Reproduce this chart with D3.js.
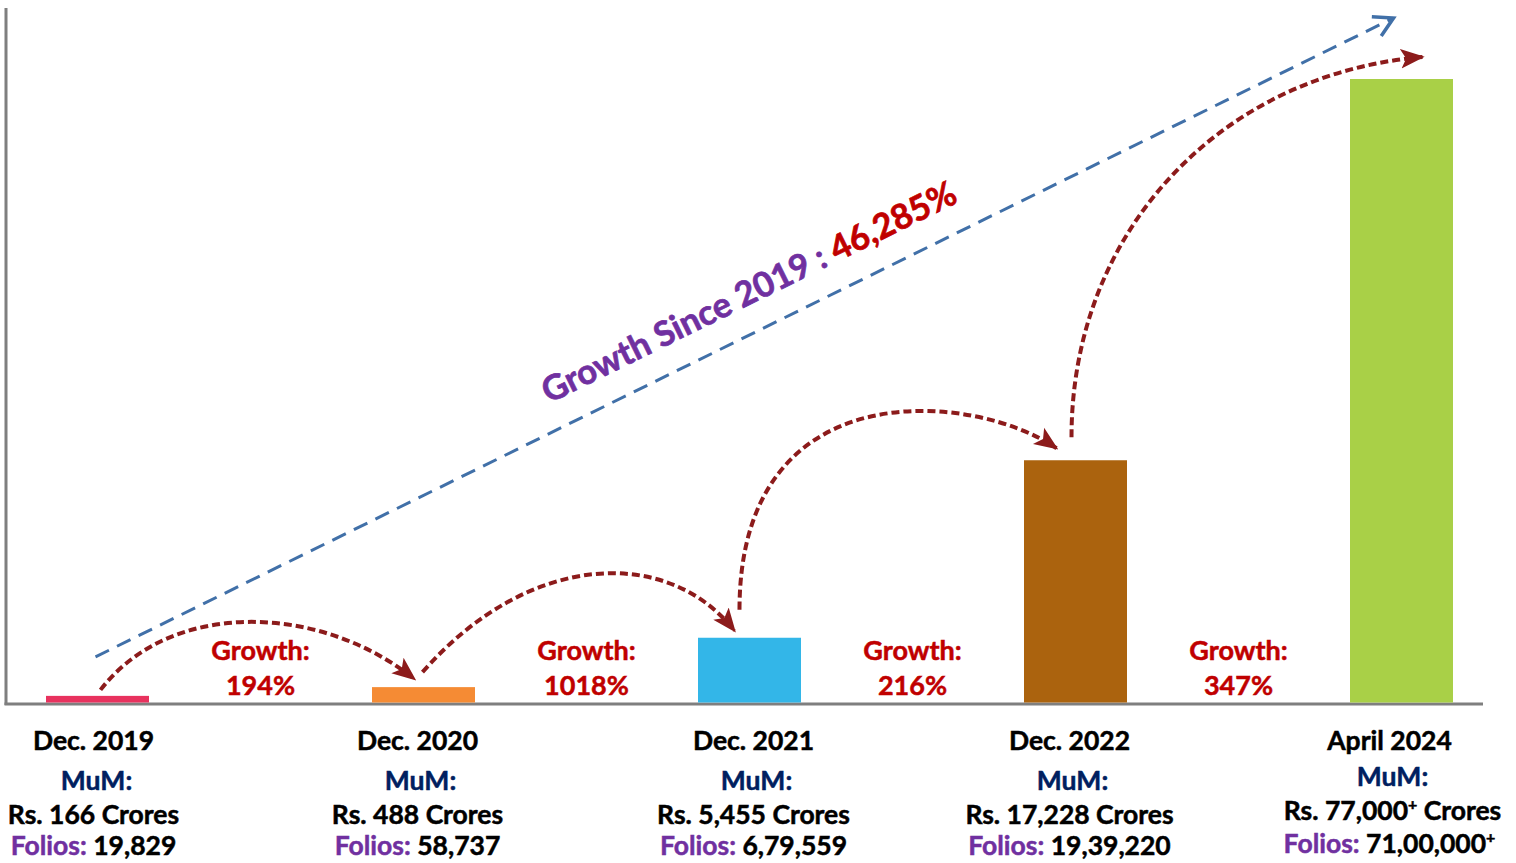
<!DOCTYPE html>
<html>
<head>
<meta charset="utf-8">
<script src="https://cdn.jsdelivr.net/npm/d3@7"></script>
<style>
  html, body { margin: 0; padding: 0; background: #ffffff; }
  svg { display: block; }
  text { font-family: "Lato", "Open Sans", sans-serif; font-weight: 700; }
</style>
</head>
<body>
<svg id="chart" width="1516" height="863"></svg>
<script>
// ---- data ----
const categories = ["Dec. 2019", "Dec. 2020", "Dec. 2021", "Dec. 2022", "April 2024"];
const mumCrores  = ["166", "488", "5,455", "17,228", "77,000"];
const mumPlus    = [false, false, false, false, true];
const folios     = ["19,829", "58,737", "6,79,559", "19,39,220", "71,00,000"];
const foliosPlus = [false, false, false, false, true];
const barLevel   = [1.3, 2.7, 10.6, 39, 100];   // relative bar height as drawn (tallest = 100)
const growth     = ["194%", "1018%", "216%", "347%"];
const totalGrowth = "46,285%";
const barColors  = ["#e8325e", "#f58b34", "#33b6e8", "#ab630e", "#a9d047"];

// ---- layout ----
const frame = { left: 6, right: 1483, top: 8, bottom: 704 };
const barW = 103;
const labelShift = [-4, -6, 4, -6, -12];
const svg = d3.select("#chart");

const x = d3.scalePoint().domain(categories).range([97.5, 1401.5]);
const y = d3.scaleLinear().domain([0, 100]).range([frame.bottom, 79]);

const RED = "#c00000", PURPLE = "#7030a0", NAVY = "#002060", DARKRED = "#8c1b1b", BLUE = "#4170a8";

// markers
const defs = svg.append("defs");
defs.append("marker").attr("id", "redHead")
  .attr("markerUnits", "userSpaceOnUse").attr("markerWidth", 24).attr("markerHeight", 24)
  .attr("viewBox", "0 0 22 20").attr("refX", 20).attr("refY", 10).attr("orient", "auto")
  .append("path").attr("d", "M0,1 L22,10 L0,19 L5,10 Z").attr("fill", DARKRED);
defs.append("marker").attr("id", "blueHead")
  .attr("markerUnits", "userSpaceOnUse").attr("markerWidth", 26).attr("markerHeight", 26)
  .attr("viewBox", "0 0 22 22").attr("refX", 19).attr("refY", 11).attr("orient", "auto")
  .append("path").attr("d", "M3,2 L19,11 L3,20").attr("fill", "none")
  .attr("stroke", BLUE).attr("stroke-width", 3).attr("stroke-linejoin", "miter");

// axes frame
svg.append("line").attr("x1", frame.left).attr("x2", frame.left)
  .attr("y1", frame.top).attr("y2", frame.bottom + 1)
  .attr("stroke", "#7f7f7f").attr("stroke-width", 3);
svg.append("line").attr("x1", frame.left - 1.5).attr("x2", frame.right)
  .attr("y1", frame.bottom).attr("y2", frame.bottom)
  .attr("stroke", "#7f7f7f").attr("stroke-width", 3);

// bars
svg.append("g").selectAll("rect").data(categories).join("rect")
  .attr("x", d => x(d) - barW / 2)
  .attr("width", barW)
  .attr("y", (d, i) => y(barLevel[i]))
  .attr("height", (d, i) => y(0) - y(barLevel[i]) - 1.5)
  .attr("fill", (d, i) => barColors[i]);

// blue dashed total-growth line
const c0 = x(categories[0]), cN = x(categories[categories.length - 1]);
const blueStart = [c0 - 2, y(barLevel[0]) - 39];
const blueEnd = [cN - 8, frame.top + 10];
svg.append("line")
  .attr("x1", blueStart[0]).attr("y1", blueStart[1])
  .attr("x2", blueEnd[0]).attr("y2", blueEnd[1])
  .attr("stroke", BLUE).attr("stroke-width", 3)
  .attr("stroke-dasharray", "15 9")
  .attr("marker-end", "url(#blueHead)");

// helper: coloured text with a hairline stroke for a heavier look
function paint(sel, col, w) {
  return sel.attr("fill", col).attr("stroke", col).attr("stroke-width", w || 0.5);
}

// rotated total-growth label
const ang = Math.atan2(blueEnd[1] - blueStart[1], blueEnd[0] - blueStart[0]) * 180 / Math.PI;
const tx = 549, tyOnLine = blueStart[1] + (tx - blueStart[0]) * (blueEnd[1] - blueStart[1]) / (blueEnd[0] - blueStart[0]);
const tl = svg.append("text")
  .attr("transform", `translate(${tx},${tyOnLine - 30}) rotate(${ang})`)
  .attr("font-size", 34.5);
paint(tl.append("tspan"), PURPLE, 0.7).text("Growth Since 2019 : ");
paint(tl.append("tspan"), RED, 0.7).text(totalGrowth);

// curved dotted arrows between bars
function bez(p0, p1, p2, p3) {
  const p = d3.path();
  p.moveTo(p0[0], p0[1]);
  p.bezierCurveTo(p1[0], p1[1], p2[0], p2[1], p3[0], p3[1]);
  return p.toString();
}
const barTop = i => y(barLevel[i]);
const xc = i => x(categories[i]);
const arrows = [
  bez([xc(0) + 3, barTop(0) - 6], [xc(0) + 73, barTop(0) - 97], [xc(1) - 104, barTop(1) - 84], [xc(1) - 9, barTop(1) - 8]),
  bez([xc(1) - 1, barTop(1) - 15], [xc(1) + 105, barTop(1) - 136], [xc(2) - 82, barTop(2) - 92], [xc(2) - 15, barTop(2) - 7]),
  bez([xc(2) - 10, barTop(2) - 28], [xc(2) - 10, barTop(2) - 270], [xc(3) - 100, barTop(3) - 68], [xc(3) - 19, barTop(3) - 12]),
  bez([xc(3) - 4, barTop(3) - 23], [xc(3) - 4, barTop(3) - 230], [xc(4) - 180, barTop(4) - 5], [xc(4) + 21, barTop(4) - 22])
];
svg.append("g").selectAll("path").data(arrows).join("path")
  .attr("d", d => d)
  .attr("fill", "none")
  .attr("stroke", DARKRED).attr("stroke-width", 4)
  .attr("stroke-dasharray", "8 4")
  .attr("marker-end", "url(#redHead)");

// growth labels between bars
const gG = svg.append("g").attr("text-anchor", "middle").attr("font-size", 27);
growth.forEach((g, i) => {
  const mx = (xc(i) + xc(i + 1)) / 2;
  paint(gG.append("text"), RED).attr("x", mx).attr("y", 660).text("Growth:");
  paint(gG.append("text"), RED).attr("x", mx).attr("y", 695).text(g);
});

// category labels below axis
const lab = svg.append("g").attr("text-anchor", "middle").attr("font-size", 26.5);
categories.forEach((c, i) => {
  const last = i === 4;
  const cx = xc(i) + labelShift[i];
  paint(lab.append("text"), "#000").attr("x", cx).attr("y", 750).text(c);
  paint(lab.append("text"), NAVY).attr("x", cx + 3).attr("y", last ? 786 : 790).text("MuM:");
  const r = paint(lab.append("text"), "#000").attr("x", cx + (last ? 3 : 0)).attr("y", last ? 820 : 824);
  r.append("tspan").text("Rs. " + mumCrores[i]);
  if (mumPlus[i]) r.append("tspan").attr("font-size", 16).attr("dy", -10).text("+");
  r.append("tspan").attr("dy", mumPlus[i] ? 10 : 0).text(" Crores");
  const f = lab.append("text").attr("x", cx).attr("y", last ? 853 : 855);
  paint(f.append("tspan"), PURPLE).text("Folios: ");
  paint(f.append("tspan"), "#000").text(folios[i]);
  if (foliosPlus[i]) paint(f.append("tspan"), "#000").attr("font-size", 16).attr("dy", -10).text("+");
});
</script>
</body>
</html>
